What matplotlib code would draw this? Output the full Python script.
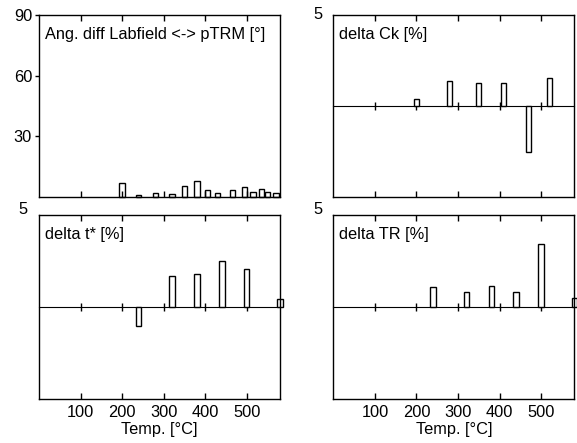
import numpy as np
import matplotlib.pyplot as plt
import matplotlib.transforms as mtransforms

plt.rcParams['font.family'] = ['Liberation Sans', 'DejaVu Sans']
plt.rcParams['font.size'] = 11.8

# step temperatures and values
ang_temps = [200, 240, 280, 320, 350, 380, 405, 430, 465, 495, 515, 535, 550, 570]
ang_vals = [6.6, 0.8, 2.0, 1.3, 5.4, 7.8, 3.3, 2.0, 3.3, 4.6, 2.3, 3.6, 2.2, 2.0]

ck_temps = [200, 280, 350, 410, 470, 520]
ck_vals = [0.4, 1.36, 1.27, 1.27, -2.52, 1.56]

tstar_temps = [240, 320, 380, 440, 500, 580]
tstar_vals = [-1.0, 1.67, 1.83, 2.49, 2.05, 0.42]

tr_temps = [240, 320, 380, 440, 500, 580]
tr_vals = [1.09, 0.80, 1.16, 0.80, 3.45, 0.51]

xticks = [100, 200, 300, 400, 500]
xmax = 580
bar_w = 13

fig = plt.figure(figsize=(5.77, 4.43), dpi=100)

ax1 = fig.add_axes([0.0676, 0.556, 0.4177, 0.4095])
ax2 = fig.add_axes([0.5777, 0.556, 0.4177, 0.4095])
ax3 = fig.add_axes([0.0676, 0.0993, 0.4177, 0.4147])
ax4 = fig.add_axes([0.5777, 0.0993, 0.4177, 0.4147])


def draw_bars(ax, t, v):
    ax.bar(t, v, width=bar_w, color='white', edgecolor='black',
           linewidth=1.0, clip_on=False, zorder=1)


def frame(ax):
    ax.set_xlim(0, xmax)
    ax.set_xticks(xticks)
    ax.tick_params(axis='x', direction='in', top=True, length=4, width=1)
    for s in ax.spines.values():
        s.set_linewidth(1.0)


# angle panel
draw_bars(ax1, ang_temps, ang_vals)
frame(ax1)
ax1.set_ylim(0, 90)
ax1.set_yticks([30, 60, 90])
ax1.tick_params(axis='y', direction='out', length=3, width=1, pad=2)
ax1.tick_params(axis='x', labelbottom=False)
ax1.text(0.025, 0.935, 'Ang. diff Labfield <-> pTRM [°]', transform=ax1.transAxes,
         va='top', ha='left')

# delta panels
deltas = [(ax2, ck_temps, ck_vals, 'delta Ck [%]', 1.5),
          (ax3, tstar_temps, tstar_vals, 'delta t* [%]', 5.5),
          (ax4, tr_temps, tr_vals, 'delta TR [%]', 5.5)]
for ax, t, v, name, lift in deltas:
    draw_bars(ax, t, v)
    frame(ax)
    ax.set_ylim(-5, 5)
    ax.set_yticks([5])
    ax.tick_params(axis='y', length=0, pad=8)
    off = mtransforms.ScaledTranslation(0, lift / 72, fig.dpi_scale_trans)
    for lab in ax.get_yticklabels():
        lab.set_transform(lab.get_transform() + off)
    zero = ax.secondary_xaxis(0.5)
    zero.set_xticks(xticks)
    zero.tick_params(direction='inout', length=6, width=1,
                     labelbottom=False, labeltop=False)
    zero.spines['bottom'].set_linewidth(1.0)
    ax.text(0.025, 0.935, name, transform=ax.transAxes, va='top', ha='left')

ax2.tick_params(axis='x', labelbottom=False)
for ax in (ax3, ax4):
    ax.tick_params(axis='x', pad=4.5)
    ax.set_xlabel('Temp. [°C]', labelpad=1.5)

plt.savefig('out.png', dpi=100)
